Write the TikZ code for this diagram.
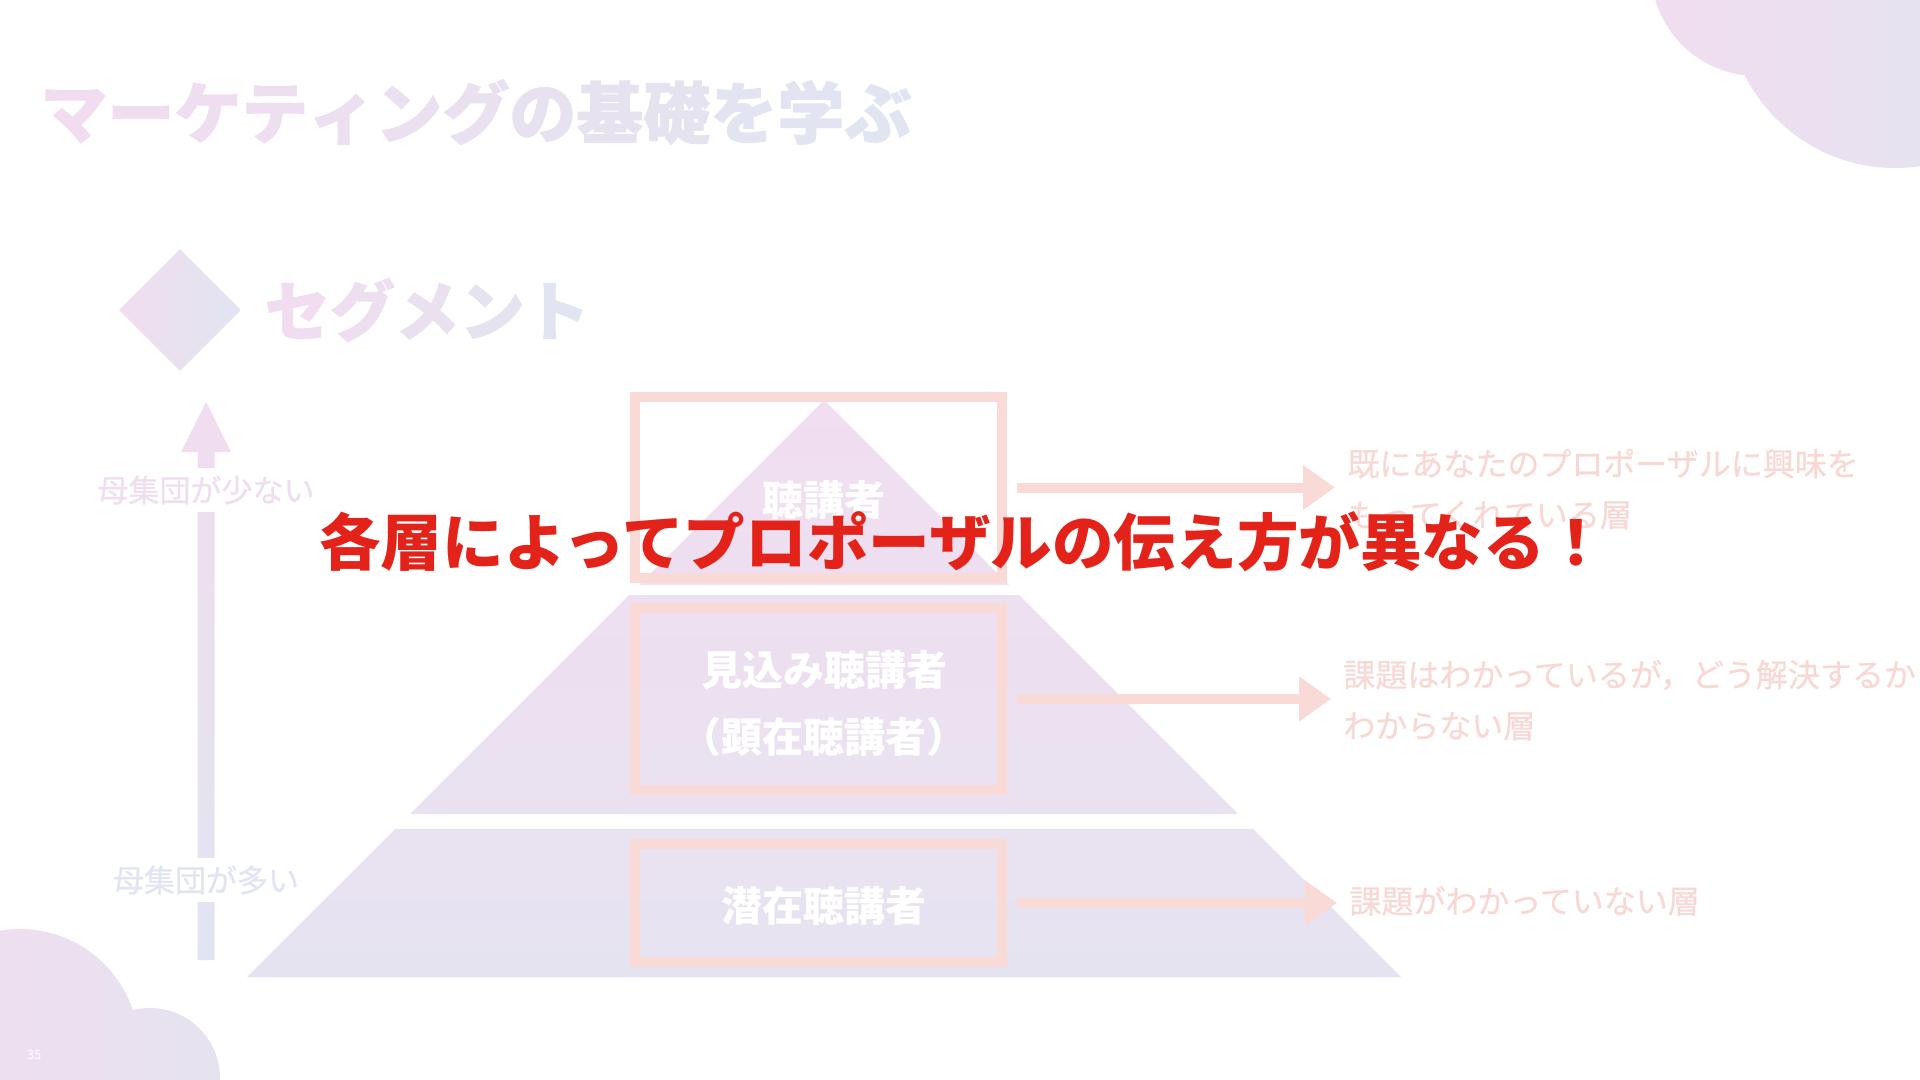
\documentclass[tikz,border=0pt]{standalone}
\usepackage{fontspec}
\setmainfont{Noto Sans CJK JP}
\newfontfamily\heavyfont{Noto Sans CJK JP}[BoldFeatures={FakeBold=1.3}]
\newfontfamily\mediumfont{Noto Sans CJK JP}[FakeBold=0.7]
\usetikzlibrary{arrows.meta,positioning,shapes.geometric}
\definecolor{SGPink}{HTML}{F1DDEF}
\definecolor{SGBlue}{HTML}{E1E5F1}
\definecolor{SGPyTop}{HTML}{F1DEF0}
\definecolor{SGPyBot}{HTML}{E6E3F1}
\definecolor{SGSalmon}{HTML}{FADAD6}
\definecolor{SGSalmonText}{HTML}{F8D8D4}
\definecolor{SGRed}{HTML}{E3231A}
\tikzset{
  flowsalmon/.style={-{Triangle[length=16pt,width=21.5pt]},SGSalmon,line width=5pt,
                     shorten <=5pt,shorten >=6pt},
  tierframe/.style={draw=SGSalmon,line width=5pt,minimum width=183.5pt,inner sep=0pt},
  tiertext/.style={text=white,font=\fontsize{20.5}{33.5}\selectfont\bfseries,align=center},
  desc/.style={text=SGSalmonText,font=\fontsize{16}{25.5}\selectfont\mediumfont,align=left,
               anchor=west,inner sep=0pt},
  axislabel/.style={fill=white,font=\fontsize{15.5}{18}\selectfont\mediumfont,
                    inner xsep=0pt,inner ysep=4pt},
  headline/.style={font=\fontsize{33.5}{40}\selectfont\heavyfont\bfseries,anchor=west,inner sep=0pt},
  message/.style={text=SGRed,font=\fontsize{30.8}{36}\selectfont\bfseries,inner sep=0pt},
}
% one colour per glyph, pink to blue
\newcommand{\gradtext}[2]{%
  \foreach \ch [count=\i] in {#2}{%
    \pgfmathtruncatemacro{\mixpct}{100-100*(\i-1)/(#1-1)}%
    \textcolor{SGPink!\mixpct!SGBlue}{\ch}}}

\begin{document}
\begin{tikzpicture}[x=0.5pt,y=-0.5pt]
  \useasboundingbox (0,0) rectangle (1920,1080);

  \begin{scope}
    \clip (0,0) rectangle (1920,1080);
    \shade[left color=SGPink,right color=SGBlue]
      (1757,-30) circle[radius=106] (1895,0) circle[radius=168];
    \shade[left color=SGPink,right color=SGBlue!70!SGPink]
      (20,1048) circle[radius=119] (150,1078) circle[radius=70];
  \end{scope}
  \node[text=white,font=\fontsize{6.5}{8}\selectfont] (page) at (34,1055) {35};

  \node[headline] (title) at (40,112) {\gradtext{13}{マ,ー,ケ,テ,ィ,ン,グ,の,基,礎,を,学,ぶ}};
  \node[diamond,minimum width=61pt,minimum height=61pt,inner sep=0pt,
        left color=SGPink,right color=SGBlue] (mark) at (180,310) {};
  \node[headline,font=\fontsize{32.5}{40}\selectfont\heavyfont\bfseries,right=11.5pt of mark]
    (segment) {\gradtext{5}{セ,グ,メ,ン,ト}};

  % population axis
  \shade[top color=SGPink,bottom color=SGBlue]
    (206,402) -- (231,452) -- (214.5,452) -- (214.5,960) -- (197.5,960)
    -- (197.5,452) -- (181,452) -- cycle;
  \node[axislabel,text=SGPink!90!SGBlue] (few) at (206,490) {母集団が少ない};
  \node[axislabel,text=SGBlue] (many) at (206,880) {母集団が多い};

  % pyramid
  \shade[top color=SGPyTop,bottom color=SGPyTop!68!SGPyBot]
    (824,400) -- (1009,585) -- (639,585) -- cycle;
  \shade[top color=SGPyTop!66!SGPyBot,bottom color=SGPyTop!29!SGPyBot]
    (629,595) -- (1019,595) -- (1238,814) -- (410,814) -- cycle;
  \shade[top color=SGPyTop!26!SGPyBot,bottom color=SGPyBot]
    (395,829) -- (1253,829) -- (1401,977) -- (247,977) -- cycle;

  \node[tierframe,minimum height=90.5pt] (f1) at (818,487.5) {};
  \node[tierframe,minimum height=91pt] (f2) at (818,699) {};
  \node[tierframe,minimum height=59pt] (f3) at (818,903) {};

  \node[tiertext] (t1) at (824,500) {聴講者};
  \node[tiertext] (t2) at (824,704) {見込み聴講者\\（顕在聴講者）};
  \node[tiertext] (t3) at (824,906) {潜在聴講者};

  \node[desc] (d1) at (1347,489) {既にあなたのプロポーザルに興味を\\もってくれている層};
  \node[desc] (d2) at (1343,700) {課題はわかっているが，どう解決するか\\わからない層};
  \node[desc] (d3) at (1349,901) {課題がわかっていない層};

  \draw[flowsalmon] (f1.east) -- (f1.east -| d1.west);
  \draw[flowsalmon] (f2.east) -- (f2.east -| d2.west);
  \draw[flowsalmon] (f3.east) -- (f3.east -| d3.west);

  \node[message] (msg) at (963,542) {各層によってプロポーザルの伝え方が異なる！};
\end{tikzpicture}
\end{document}
